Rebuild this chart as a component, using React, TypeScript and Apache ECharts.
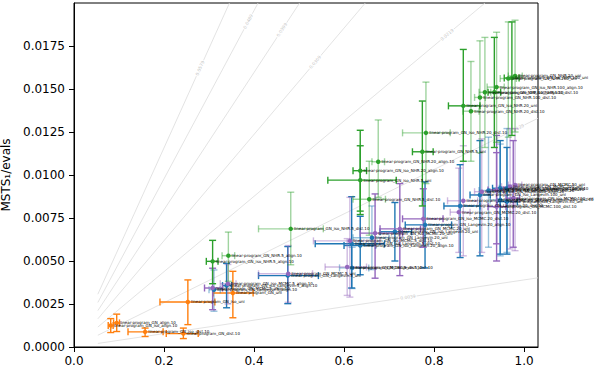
import React, { useEffect, useRef } from 'react';
import * as echarts from 'echarts';

// [label, x, xLow, xHigh, y, yLow, yHigh, light(1)/dark(0)]
type Row = [string, number, number, number, number, number, number, number];

const X_MAX = 1.031;
const Y_MAX = 0.02;
const xTicks = [0, 0.2, 0.4, 0.6, 0.8, 1.0];
const yTicks = [0, 0.0025, 0.005, 0.0075, 0.01, 0.0125, 0.015, 0.0175];

const refSlopes = [0.0579, 0.0489, 0.0399, 0.0309, 0.0219, 0.0129, 0.0039];
const refLabelX = [0.28, 0.387, 0.462, 0.536, 0.829, 0.984, 0.742];
const refLabels = ['0.0579', '0.0489', '0.0399', '0.0309', '0.0219', '0.0129', '0.0039'];
const refStartX = 0.053;

const orangePoints: Row[] = [
  ['linear-program_GN_iso_align.10', 0.0816, 0.076, 0.087, 0.00125, 0.00084, 0.00165, 0],
  ['linear-program_GN_align.10', 0.0949, 0.088, 0.101, 0.0014, 0.0009, 0.00191, 0],
  ['linear-program_GN_iso_dist.10', 0.158, 0.12, 0.198, 0.00088, 0.00061, 0.0011, 0],
  ['linear-program_GN_dist.10', 0.243, 0.205, 0.276, 0.00078, 0.00049, 0.0011, 0],
  ['linear-program_GN_iso_uni', 0.253, 0.191, 0.313, 0.00262, 0.0013, 0.0039, 0],
  ['linear-program_GN_uni', 0.353, 0.309, 0.398, 0.00314, 0.0017, 0.0044, 0],
];

const greenPoints: Row[] = [
  ['linear-program_GN_iso_NHR.5_align.10', 0.308, 0.294, 0.32, 0.00498, 0.00368, 0.0062, 0],
  ['linear-program_GN_NHR.5_align.10', 0.343, 0.329, 0.357, 0.00531, 0.00382, 0.00668, 1],
  ['linear-program_GN_iso_NHR.5_dist.10', 0.4816, 0.41, 0.554, 0.00687, 0.00478, 0.009, 1],
  ['linear-program_GN_NHR.5_dist.10', 0.656, 0.62, 0.692, 0.00859, 0.0065, 0.0108, 1],
  ['linear-program_GN_iso_NHR.20_align.10', 0.636, 0.62, 0.65, 0.01025, 0.0079, 0.0126, 0],
  ['linear-program_GN_iso_NHR.5_uni', 0.636, 0.564, 0.716, 0.0097, 0.0077, 0.0117, 0],
  ['linear-program_GN_NHR.20_align.10', 0.676, 0.662, 0.69, 0.01077, 0.0087, 0.0132, 1],
  ['linear-program_GN_NHR.5_uni', 0.774, 0.752, 0.798, 0.01135, 0.0082, 0.0143, 0],
  ['linear-program_GN_iso_NHR.20_dist.10', 0.782, 0.73, 0.836, 0.01245, 0.0095, 0.0154, 1],
  ['linear-program_GN_iso_NHR.20_uni', 0.865, 0.832, 0.902, 0.01402, 0.0108, 0.0173, 0],
  ['linear-program_GN_NHR.20_dist.10', 0.882, 0.864, 0.9, 0.01371, 0.0108, 0.0166, 1],
  ['linear-program_GN_NHR.100_dist.10', 0.902, 0.89, 0.914, 0.01451, 0.0113, 0.0178, 1],
  ['linear-program_GN_NHR.100_align.10', 0.913, 0.9, 0.926, 0.01481, 0.0116, 0.018, 1],
  ['linear-program_GN_iso_NHR.100_dist.10', 0.934, 0.92, 0.948, 0.01481, 0.0116, 0.018, 0],
  ['linear-program_GN_iso_NHR.100_align.10', 0.939, 0.918, 0.956, 0.01511, 0.0119, 0.0183, 1],
  ['linear-program_GN_NHR.100_uni', 0.965, 0.947, 0.983, 0.01561, 0.0122, 0.0189, 1],
  ['linear-program_GN_iso_NHR.100_uni', 0.973, 0.956, 0.989, 0.01564, 0.0123, 0.0189, 0],
  ['linear-program_GN_NHR.20_uni', 0.98, 0.965, 0.996, 0.01576, 0.0125, 0.019, 1],
];

const bluePoints: Row[] = [
  ['linear-program_GN_Langevin.5_align.10', 0.311, 0.3, 0.325, 0.00333, 0.00208, 0.00448, 1],
  ['linear-program_GN_iso_Langevin.5_align.10', 0.339, 0.33, 0.35, 0.00357, 0.00228, 0.00486, 0],
  ['linear-program_GN_Langevin.5_uni', 0.475, 0.41, 0.543, 0.00415, 0.00252, 0.00584, 0],
  ['linear-program_GN_iso_Langevin.5_dist.10', 0.617, 0.536, 0.69, 0.006, 0.00343, 0.00874, 0],
  ['linear-program_GN_Langevin.5_dist.10', 0.618, 0.59, 0.655, 0.0046, 0.0034, 0.0058, 1],
  ['linear-program_GN_iso_Langevin.20_align.10', 0.636, 0.6, 0.67, 0.0059, 0.0042, 0.0076, 0],
  ['linear-program_GN_Langevin.20_uni', 0.662, 0.62, 0.7, 0.00635, 0.0045, 0.0082, 1],
  ['linear-program_GN_iso_Langevin.20_uni', 0.713, 0.68, 0.75, 0.0067, 0.005, 0.0084, 0],
  ['linear-program_GN_Langevin.20_align.10', 0.78, 0.736, 0.839, 0.0071, 0.0046, 0.0096, 0],
  ['linear-program_GN_Langevin.20_dist.10', 0.858, 0.822, 0.902, 0.0082, 0.0052, 0.0106, 0],
  ['linear-program_GN_iso_Langevin.100_uni', 0.902, 0.88, 0.925, 0.00884, 0.0053, 0.012, 0],
  ['linear-program_GN_Langevin.100_dist.10', 0.921, 0.9, 0.94, 0.0091, 0.0058, 0.0122, 1],
  ['linear-program_GN_Langevin.100_align.10', 0.947, 0.93, 0.965, 0.00923, 0.0054, 0.012, 0],
  ['linear-program_GN_Langevin.100_uni', 0.962, 0.945, 0.98, 0.00923, 0.0055, 0.0127, 1],
  ['linear-program_GN_iso_Langevin.100_dist.10', 0.947, 0.925, 0.97, 0.00855, 0.0053, 0.0118, 1],
  ['linear-program_GN_Langevin.50_uni', 0.962, 0.94, 0.985, 0.00845, 0.0054, 0.0116, 0],
];

const purplePoints: Row[] = [
  ['linear-program_GN_MCMC.5_align.10', 0.308, 0.29, 0.33, 0.00343, 0.00217, 0.00458, 0],
  ['linear-program_GN_iso_MCMC.5_align.10', 0.342, 0.325, 0.36, 0.00368, 0.0025, 0.0048, 1],
  ['linear-program_GN_MCMC.5_uni', 0.476, 0.41, 0.53, 0.00426, 0.0026, 0.0059, 1],
  ['linear-program_GN_iso_MCMC.5_dist.10', 0.613, 0.532, 0.68, 0.00617, 0.0029, 0.0087, 1],
  ['linear-program_GN_MCMC.5_dist.10', 0.607, 0.558, 0.65, 0.00465, 0.003, 0.0063, 1],
  ['linear-program_GN_iso_MCMC.20_uni', 0.669, 0.636, 0.73, 0.00662, 0.004, 0.0089, 0],
  ['linear-program_GN_MCMC.20_uni', 0.724, 0.68, 0.77, 0.00687, 0.00415, 0.0095, 0],
  ['linear-program_GN_iso_MCMC.20_dist.10', 0.776, 0.73, 0.82, 0.00745, 0.0058, 0.0092, 0],
  ['linear-program_GN_MCMC.20_dist.10', 0.855, 0.836, 0.88, 0.00784, 0.0055, 0.0104, 1],
  ['linear-program_GN_iso_MCMC.20_align.10', 0.865, 0.83, 0.897, 0.0085, 0.0053, 0.0117, 1],
  ['linear-program_GN_MCMC.100_align.10', 0.906, 0.89, 0.925, 0.00903, 0.0055, 0.0121, 1],
  ['linear-program_GN_iso_MCMC.100_dist.10', 0.939, 0.92, 0.955, 0.00913, 0.006, 0.0123, 0],
  ['linear-program_GN_MCMC.100_uni', 0.969, 0.95, 0.985, 0.00932, 0.0057, 0.0127, 1],
  ['linear-program_GN_MCMC.50_uni', 0.98, 0.965, 0.995, 0.00942, 0.0056, 0.0127, 1],
  ['linear-program_GN_MCMC.100_dist.10', 0.939, 0.92, 0.96, 0.00816, 0.005, 0.0113, 0],
  ['linear-program_GN_iso_MCMC.100_uni', 0.976, 0.96, 0.99, 0.00865, 0.0058, 0.012, 0],
];

const GRID = { left: 74, right: 60, top: 3, bottom: 24 };
const W = 598;
const H = 371;
const FONT = 'DejaVu Sans';

function hexA(hex: string, a: number) {
  const r = parseInt(hex.slice(1, 3), 16);
  const g = parseInt(hex.slice(3, 5), 16);
  const b = parseInt(hex.slice(5, 7), 16);
  return `rgba(${r},${g},${b},${a})`;
}

function errorSeries(rows: Row[], color: string) {
  const light = hexA(color, 0.45);
  return {
    type: 'custom',
    z: 3,
    silent: true,
    data: rows.map((r) => [r[1], r[4], r[2], r[3], r[5], r[6], r[7]]),
    encode: { x: [0, 2, 3], y: [1, 4, 5] },
    renderItem: (_params: any, api: any) => {
      const x = api.value(0);
      const y = api.value(1);
      const xl = api.coord([api.value(2), y]);
      const xh = api.coord([api.value(3), y]);
      const yl = api.coord([x, api.value(4)]);
      const yh = api.coord([x, api.value(5)]);
      const stroke = api.value(6) ? light : color;
      const style = { stroke, lineWidth: 1.4, fill: null };
      const cap = 3.5;
      const ln = (x1: number, y1: number, x2: number, y2: number) => ({
        type: 'line',
        shape: { x1, y1, x2, y2 },
        style,
      });
      return {
        type: 'group',
        children: [
          ln(xl[0], xl[1], xh[0], xh[1]),
          ln(xl[0], xl[1] - cap, xl[0], xl[1] + cap),
          ln(xh[0], xh[1] - cap, xh[0], xh[1] + cap),
          ln(yl[0], yl[1], yh[0], yh[1]),
          ln(yl[0] - cap, yl[1], yl[0] + cap, yl[1]),
          ln(yh[0] - cap, yh[1], yh[0] + cap, yh[1]),
        ],
      };
    },
  };
}

function markerSeries(rows: Row[], color: string) {
  return {
    type: 'scatter',
    z: 4,
    symbol: 'circle',
    symbolSize: 4.5,
    itemStyle: { color, opacity: 1 },
    data: rows.map((r) => ({ name: r[0], value: [r[1], r[4]] })),
    label: {
      show: true,
      formatter: '{b}',
      position: 'right',
      distance: 1,
      fontSize: 4,
      color: '#000',
      fontFamily: FONT,
    },
    emphasis: { disabled: true },
  };
}

export default function App() {
  const ref = useRef<HTMLDivElement>(null);
  useEffect(() => {
    if (!ref.current) return;
    const chart = echarts.init(ref.current, undefined, { renderer: 'svg' });
    const plotW = W - GRID.left - GRID.right;
    const plotH = H - GRID.top - GRID.bottom;
    const ratio = (plotH / Y_MAX) / (plotW / X_MAX);

    const refLineSeries = refSlopes.map((k) => {
      const xEnd = Math.min(X_MAX, Y_MAX / k);
      return {
        type: 'line',
        z: 1,
        silent: true,
        showSymbol: false,
        lineStyle: { color: '#dcdcdc', width: 0.8 },
        data: [
          [refStartX, k * refStartX],
          [xEnd, k * xEnd],
        ],
      };
    });
    const refLabelSeries = {
      type: 'scatter',
      z: 2,
      silent: true,
      symbolSize: 0,
      data: refSlopes.map((k, i) => ({
        name: refLabels[i],
        value: [refLabelX[i], k * refLabelX[i]],
        label: { rotate: (Math.atan(k * ratio) * 180) / Math.PI },
      })),
      label: {
        show: true,
        position: 'inside',
        formatter: '{b}',
        fontSize: 4.5,
        color: '#b8b8b8',
        fontFamily: FONT,
        backgroundColor: '#fff',
        padding: [0, 1],
      },
    };

    chart.setOption({
      animation: false,
      backgroundColor: '#fff',
      grid: {
        ...GRID,
        outerBoundsMode: 'none',
        containLabel: false,
        show: true,
        borderColor: '#000',
        borderWidth: 1,
        backgroundColor: 'transparent',
      },
      xAxis: {
        type: 'value',
        min: 0,
        max: X_MAX,
        splitLine: { show: false },
        axisLine: { show: true, onZero: false, lineStyle: { color: '#000', width: 1 } },
        axisTick: { show: true, length: 5, lineStyle: { color: '#000' }, customValues: xTicks },
        axisLabel: {
          customValues: xTicks,
          formatter: (v: number) => v.toFixed(1),
          color: '#000',
          fontSize: 12,
          fontFamily: FONT,
          margin: 8,
        },
      },
      yAxis: {
        type: 'value',
        min: 0,
        max: Y_MAX,
        name: 'MSTS\u2081/evals',
        nameLocation: 'middle',
        nameGap: 54,
        nameTextStyle: { color: '#000', fontSize: 12, fontFamily: FONT },
        splitLine: { show: false },
        axisLine: { show: true, onZero: false, lineStyle: { color: '#000', width: 1 } },
        axisTick: { show: true, length: 5, lineStyle: { color: '#000' }, customValues: yTicks },
        axisLabel: {
          customValues: yTicks,
          formatter: (v: number) => v.toFixed(4),
          color: '#000',
          fontSize: 12,
          fontFamily: FONT,
          margin: 9,
        },
      },
      series: [
        ...refLineSeries,
        refLabelSeries,
        errorSeries(orangePoints, '#ff7f0e'),
        errorSeries(bluePoints, '#1f77b4'),
        errorSeries(purplePoints, '#9467bd'),
        errorSeries(greenPoints, '#2ca02c'),
        markerSeries(orangePoints, '#ff7f0e'),
        markerSeries(bluePoints, '#1f77b4'),
        markerSeries(purplePoints, '#9467bd'),
        markerSeries(greenPoints, '#2ca02c'),
      ],
    });
    return () => chart.dispose();
  }, []);
  return (
    <div
      ref={ref}
      style={{ position: 'absolute', left: 0, top: 0, width: W, height: H }}
    />
  );
}
